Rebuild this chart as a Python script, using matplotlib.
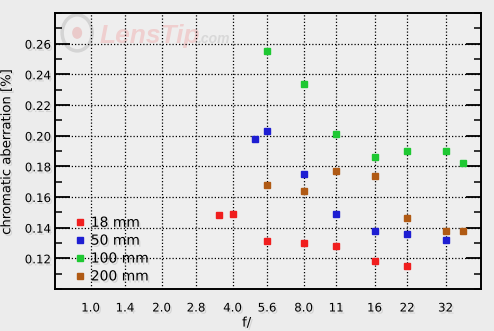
import numpy as np
import matplotlib
matplotlib.use('Agg')
import matplotlib.pyplot as plt
import matplotlib.patheffects as pe
from matplotlib.patches import Ellipse
from matplotlib.ticker import MultipleLocator

# f-number stops shown on the x axis
stops = [1.0, 1.4, 2.0, 2.8, 4.0, 5.6, 8.0, 11, 16, 22, 32]
stop_labels = ['1.0', '1.4', '2.0', '2.8', '4.0', '5.6', '8.0', '11', '16', '22', '32']

# measurements per focal length
f_18 = [3.5, 4.0, 5.6, 8.0, 11, 16, 22]
ca_18 = [0.148, 0.149, 0.131, 0.130, 0.128, 0.118, 0.115]

f_50 = [5.0, 5.6, 8.0, 11, 16, 22, 32]
ca_50 = [0.198, 0.203, 0.175, 0.149, 0.138, 0.136, 0.132]

f_100 = [5.6, 8.0, 11, 16, 22, 32, 38]
ca_100 = [0.255, 0.234, 0.201, 0.186, 0.190, 0.190, 0.182]

f_200 = [5.6, 8.0, 11, 16, 22, 32, 38]
ca_200 = [0.168, 0.164, 0.177, 0.174, 0.146, 0.138, 0.138]

series = [
    (f_18, ca_18, '18 mm', '#f01e1e'),
    (f_50, ca_50, '50 mm', '#1e1ed2'),
    (f_100, ca_100, '100 mm', '#1ec832'),
    (f_200, ca_200, '200 mm', '#b05a14'),
]

bg = '#ececec'
shadow = [pe.withSimplePatchShadow(offset=(1.2, -1.5), shadow_rgbFace='#999999', alpha=0.3)]

fig = plt.figure(figsize=(4.94, 3.31), dpi=100, facecolor=bg)
ax = fig.add_axes([55 / 494, 42 / 331, 426 / 494, 276 / 331])
ax.set_facecolor('#eeeeee')

for fx, fy, name, col in series:
    ax.plot(fx, fy, ls='none', marker='s', ms=3.8, color=col, label=name, zorder=3)

ax.set_xscale('log', base=2)
ax.set_xlim(1 / np.sqrt(2), 32 * np.sqrt(2))
ax.set_ylim(0.10, 0.28)

ax.set_xticks(stops)
ax.set_xticklabels(stop_labels)
ax.xaxis.set_minor_locator(plt.NullLocator())
ax.tick_params(axis='x', length=0, pad=9, labelsize=8.5)

ax.set_yticks([0.12, 0.14, 0.16, 0.18, 0.20, 0.22, 0.24, 0.26])
ax.set_yticklabels(['0.12', '0.14', '0.16', '0.18', '0.20', '0.22', '0.24', '0.26'])
ax.yaxis.set_minor_locator(MultipleLocator(0.01))
ax.tick_params(axis='y', which='major', direction='in', length=10.5, width=1.3,
               left=True, right=True, labelsize=8.5, pad=3)
ax.tick_params(axis='y', which='minor', direction='in', length=5.3, width=1.1,
               left=True, right=True)

for lab in ax.get_xticklabels() + ax.get_yticklabels():
    lab.set_path_effects(shadow)

ax.grid(True, which='major', color='black', linestyle=(0, (1, 1.6)), linewidth=0.9)
for s in ax.spines.values():
    s.set_linewidth(1.4)

ax.set_xlabel('f/', fontsize=9.5, path_effects=shadow)
ax.xaxis.set_label_coords(0.45, -0.1)
ax.set_ylabel('chromatic aberration [%]', fontsize=9.5, path_effects=shadow)
ax.yaxis.set_label_coords(-0.098, 0.5)

# faint watermark
ax.add_patch(Ellipse((0.052, 0.928), 30 / 426, 36 / 276, transform=ax.transAxes,
                     fill=False, ec='#d4d4d4', lw=2.5, zorder=1))
ax.add_patch(Ellipse((0.052, 0.928), 10 / 426, 12 / 276, transform=ax.transAxes,
                     fill=True, fc='#eacaca', ec='none', zorder=1))
ax.text(0.104, 0.918, 'LensTip', transform=ax.transAxes, fontsize=19, style='italic',
        weight='bold', family='Liberation Sans', color='#efcfcf',
        ha='left', va='center', zorder=1)
ax.text(0.335, 0.905, '.com', transform=ax.transAxes, fontsize=10, style='italic',
        weight='bold', family='Liberation Sans', color='#d8d8d8',
        ha='left', va='center', zorder=1)

leg = ax.legend(loc='lower left', bbox_to_anchor=(0.035, 0.0), frameon=False,
                fontsize=10, handlelength=0.6, handletextpad=0.5,
                labelspacing=0.28, markerscale=1.0, borderaxespad=0)
for t in leg.get_texts():
    t.set_path_effects(shadow)

fig.savefig('out.png', dpi=100, facecolor=bg)
